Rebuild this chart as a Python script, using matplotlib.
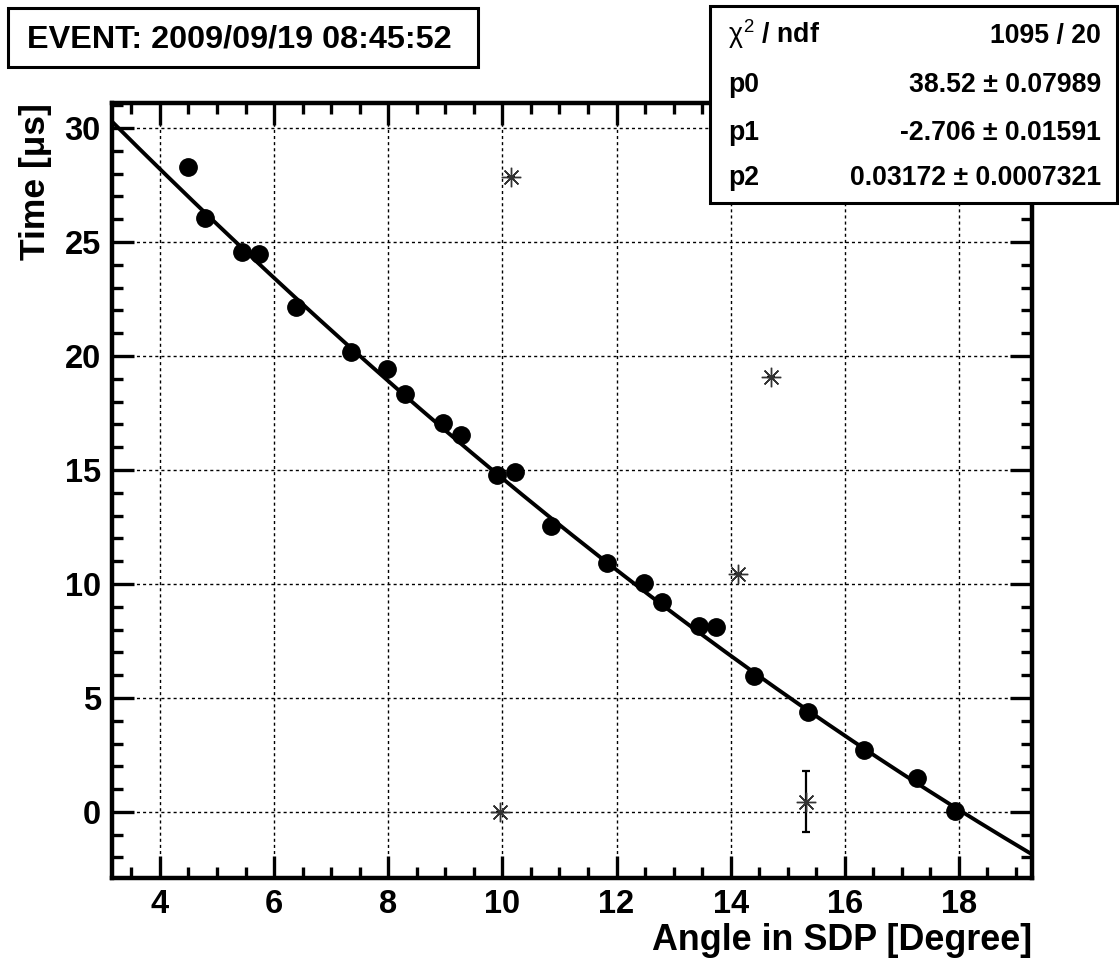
import numpy as np
import matplotlib
matplotlib.use("Agg")
import matplotlib.pyplot as plt
from matplotlib.patches import Rectangle
from matplotlib.ticker import MultipleLocator

plt.rcParams['font.family'] = ['Liberation Sans', 'DejaVu Sans']
plt.rcParams['mathtext.fontset'] = 'custom'
plt.rcParams['mathtext.rm'] = 'Liberation Sans'
plt.rcParams['mathtext.it'] = 'Liberation Sans'
plt.rcParams['mathtext.bf'] = 'Liberation Sans:bold'

# ---- data ----
angle_fit = [4.50, 4.79, 5.44, 5.73, 6.39, 7.34, 7.98, 8.30, 8.96, 9.27, 9.91, 10.22,
             10.86, 11.84, 12.49, 12.80, 13.45, 13.74, 14.41, 15.36, 16.34, 17.27, 17.93]
time_fit = [28.28, 26.05, 24.56, 24.49, 22.16, 20.19, 19.43, 18.34, 17.08, 16.52, 14.77, 14.91,
            12.54, 10.94, 10.06, 9.19, 8.16, 8.09, 5.98, 4.40, 2.70, 1.49, 0.03]

angle_out = [10.15, 14.71, 14.12, 9.96, 15.32]
time_out = [27.84, 19.07, 10.42, 0.0, 0.45]
err_out = [0.0, 0.0, 0.0, 0.0, 1.33]

fit_params = [38.52, -2.706, 0.03172]
fit_errors = [0.07989, 0.01591, 0.0007321]
chi2, ndf = 1095, 20

xlim = (3.16, 19.28)
ylim = (-2.9, 31.1)
event_label = "EVENT: 2009/09/19 08:45:52"

# ---- figure ----
W, H = 1119, 960
fig = plt.figure(figsize=(W / 100, H / 100), dpi=100)
ax = fig.add_axes([112 / W, 1 - 878 / H, (1032 - 112) / W, (878 - 103) / H])

ax.set_xlim(*xlim)
ax.set_ylim(*ylim)

ax.grid(True, which='major', color='black', linestyle=(0, (2.2, 2.2)), linewidth=1.0)
ax.set_axisbelow(True)

# fit curve
xf = np.linspace(xlim[0], xlim[1], 400)
yf = fit_params[0] + fit_params[1] * xf + fit_params[2] * xf ** 2
ax.plot(xf, yf, color='black', lw=2.8, zorder=3)

ax.plot(angle_fit, time_fit, 'o', color='black', markersize=12.5, zorder=4)

ax.errorbar(angle_out, time_out, yerr=err_out, fmt='none', ecolor='black',
            elinewidth=1.6, capsize=3, capthick=1.6, zorder=4)
ax.plot(angle_out, time_out, linestyle='none', marker=(8, 2, 0), markersize=14,
        markeredgewidth=1.0, color='#333333', zorder=5)

ax.xaxis.set_major_locator(MultipleLocator(2))
ax.xaxis.set_minor_locator(MultipleLocator(0.5))
ax.yaxis.set_major_locator(MultipleLocator(5))
ax.yaxis.set_minor_locator(MultipleLocator(1))

ax.tick_params(which='both', direction='in', top=True, right=True, width=2.4, color='black')
ax.tick_params(which='major', length=16, pad=8, labelsize=23.5)
ax.tick_params(which='minor', length=8)
for lab in ax.get_xticklabels() + ax.get_yticklabels():
    lab.set_fontweight('bold')
for s in ax.spines.values():
    s.set_linewidth(3.2)

ax.set_xlabel("Angle in SDP [Degree]", fontsize=25.8, fontweight='bold', loc='right', labelpad=2)
ax.set_ylabel("Time [μs]", fontsize=25.5, fontweight='bold', loc='top', labelpad=9)

# event box
fig.patches.append(Rectangle((8 / W, 1 - 67 / H), (478 - 8) / W, (67 - 8) / H,
                             transform=fig.transFigure, fill=True, facecolor='white',
                             edgecolor='black', lw=2.2))
fig.text(27 / W, 1 - 48 / H, event_label, fontsize=23.3, fontweight='bold',
         ha='left', va='baseline')

# stats box
fig.patches.append(Rectangle((710 / W, 1 - 203 / H), (1117 - 710) / W, (203 - 6) / H,
                             transform=fig.transFigure, fill=True, facecolor='white',
                             edgecolor='black', lw=2.2, zorder=10))
rows = [(r"$\chi^{2}$ / ndf", f"{chi2} / {ndf}")]
for i, (p, e) in enumerate(zip(fit_params, fit_errors)):
    rows.append((f"p{i}", f"{p:g} ± {e:g}"))
baselines = [43, 92, 140, 185]
for (lt, rt), b in zip(rows, baselines):
    fig.text(728 / W, 1 - b / H, lt, fontsize=19.2, fontweight='bold', ha='left',
             va='baseline', zorder=11)
    fig.text(1101 / W, 1 - b / H, rt, fontsize=19.2, fontweight='bold', ha='right',
             va='baseline', zorder=11)

fig.savefig("out.png", dpi=100, facecolor='white')
